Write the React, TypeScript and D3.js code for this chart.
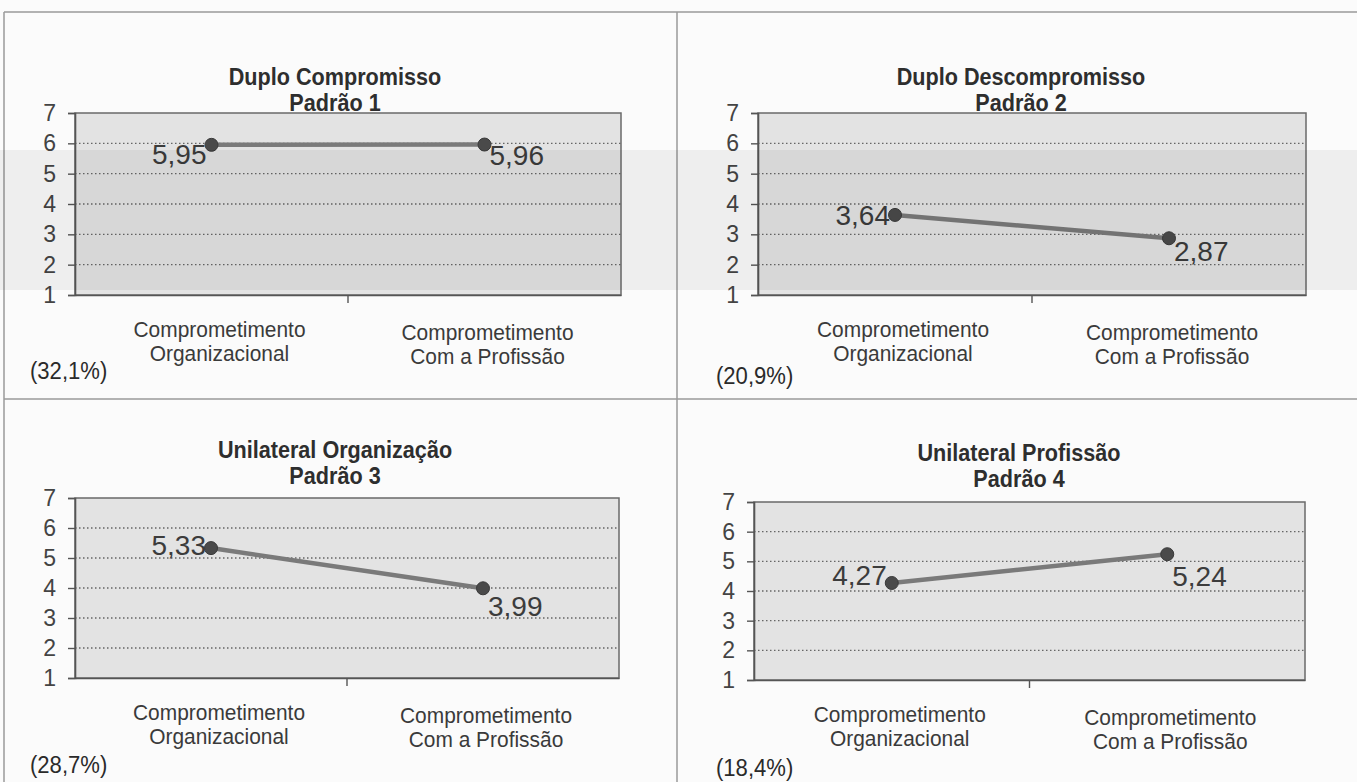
import React, { useEffect, useRef } from 'react';
import * as d3 from 'd3';

// data
const categories = ['Comprometimento Organizacional', 'Comprometimento Com a Profissão'];
const categoryLines = [
  ['Comprometimento', 'Organizacional'],
  ['Comprometimento', 'Com a Profissão'],
];
const panelTitles = ['Duplo Compromisso', 'Duplo Descompromisso', 'Unilateral Organização', 'Unilateral Profissão'];
const panelSubtitles = ['Padrão 1', 'Padrão 2', 'Padrão 3', 'Padrão 4'];
const panelShares = ['(32,1%)', '(20,9%)', '(28,7%)', '(18,4%)'];
const organizacionalValues = [5.95, 3.64, 5.33, 4.27];
const profissaoValues = [5.96, 2.87, 3.99, 5.24];
const yTicks = [1, 2, 3, 4, 5, 6, 7];

// layout of each panel on the page
const panelLayout = [
  { left: 75, right: 621, top: 113, bottom: 295, titleX: 335, titleY: 77, shareX: 30, shareY: 371 },
  { left: 758, right: 1306, top: 113, bottom: 295, titleX: 1021, titleY: 77, shareX: 716, shareY: 376 },
  { left: 75, right: 619, top: 498, bottom: 678, titleX: 335, titleY: 450, shareX: 30, shareY: 765 },
  { left: 754, right: 1305, top: 502, bottom: 680, titleX: 1019, titleY: 453, shareX: 716, shareY: 768 },
];
// vertical nudges of the value labels (first point, second point)
const labelDy = [
  [10, 11],
  [1, 13],
  [-3, 18],
  [-7, 22],
];

const FONT = "'Liberation Sans', Arial, sans-serif";
const fmt = (v: number) => d3.format('.2f')(v).replace('.', ',');

// the scanned figure uses a condensed face, so squeeze the text a bit
function addText(
  g: d3.Selection<SVGGElement, unknown, null, undefined>,
  x: number,
  y: number,
  txt: string,
  size: number,
  squeeze: number,
  anchor = 'middle',
  weight = 'normal',
  fill = '#333'
) {
  g.append('text')
    .attr('transform', `translate(${x},${y}) scale(${squeeze},1)`)
    .attr('text-anchor', anchor)
    .attr('dominant-baseline', 'central')
    .attr('fill', fill)
    .style('font-family', FONT)
    .style('font-size', `${size}px`)
    .style('font-weight', weight)
    .text(txt);
}

export default function App() {
  const svgRef = useRef<SVGSVGElement>(null);

  useEffect(() => {
    if (!svgRef.current) return;
    const svg = d3.select(svgRef.current);
    svg.selectAll('*').remove();

    svg.append('rect').attr('width', 1357).attr('height', 782).attr('fill', '#fbfbfb');

    // panel frame lines
    const frame = svg.append('g').attr('stroke', '#9a9a9a').attr('stroke-width', 1.5);
    frame.append('line').attr('x1', 4).attr('x2', 1357).attr('y1', 12).attr('y2', 12);
    frame.append('line').attr('x1', 4).attr('x2', 4).attr('y1', 12).attr('y2', 782);
    frame.append('line').attr('x1', 677).attr('x2', 677).attr('y1', 12).attr('y2', 782);
    frame.append('line').attr('x1', 4).attr('x2', 1357).attr('y1', 399).attr('y2', 399);

    panelLayout.forEach((p, i) => {
      const g = svg.append('g') as d3.Selection<SVGGElement, unknown, null, undefined>;
      const values = [organizacionalValues[i], profissaoValues[i]];

      const x = d3.scaleBand<string>().domain(categories).range([p.left, p.right]);
      const y = d3.scaleLinear().domain([1, 7]).range([p.bottom, p.top]);

      // plot area
      g.append('rect')
        .attr('x', p.left)
        .attr('y', p.top)
        .attr('width', p.right - p.left)
        .attr('height', p.bottom - p.top)
        .attr('fill', '#e3e3e3')
        .attr('stroke', '#6a6a6a')
        .attr('stroke-width', 1.5);

      // dotted grid
      g.selectAll('.grid')
        .data(yTicks.filter(t => t > 1 && t < 7))
        .join('line')
        .attr('x1', p.left)
        .attr('x2', p.right)
        .attr('y1', d => y(d))
        .attr('y2', d => y(d))
        .attr('stroke', '#666')
        .attr('stroke-width', 1.4)
        .attr('stroke-dasharray', '1.5,2.5');

      // y axis
      const yAxis = g.append('g')
        .attr('transform', `translate(${p.left},0)`)
        .call(d3.axisLeft(y).tickValues(yTicks).tickSize(7).tickPadding(12).tickFormat(d3.format('d')));
      yAxis.select('.domain').attr('stroke', '#555').attr('stroke-width', 1.6);
      yAxis.selectAll('.tick line').attr('stroke', '#555').attr('stroke-width', 1.4);
      yAxis.selectAll('.tick text')
        .attr('fill', '#444')
        .style('font-family', FONT)
        .style('font-size', '23px');

      // x axis with tick between the two categories
      const xAxis = g.append('g')
        .attr('transform', `translate(0,${p.bottom})`)
        .call(d3.axisBottom(x).tickSize(0).tickFormat(() => ''));
      xAxis.select('.domain').attr('stroke', '#555').attr('stroke-width', 1.6);
      g.append('line')
        .attr('x1', p.left + x.bandwidth())
        .attr('x2', p.left + x.bandwidth())
        .attr('y1', p.bottom)
        .attr('y2', p.bottom + 8)
        .attr('stroke', '#555')
        .attr('stroke-width', 1.4);

      // category labels
      categoryLines.forEach((lines, ci) => {
        const cx = (x(categories[ci]) ?? 0) + x.bandwidth() / 2 + (ci === 0 ? 8 : 3);
        lines.forEach((ln, li) => {
          addText(g, cx, p.bottom + (ci === 0 ? 34 : 37) + li * 24, ln, 22.5, 0.93, 'middle', 'normal', '#3a3a3a');
        });
      });

      // line + markers
      const line = d3.line<number>()
        .x((_, k) => (x(categories[k]) ?? 0) + x.bandwidth() / 2)
        .y(d => y(d));
      g.append('path')
        .datum(values)
        .attr('fill', 'none')
        .attr('stroke', '#7a7a7a')
        .attr('stroke-width', 4.5)
        .attr('d', line);
      g.selectAll('.pt')
        .data(values)
        .join('circle')
        .attr('cx', (_, k) => (x(categories[k]) ?? 0) + x.bandwidth() / 2)
        .attr('cy', d => y(d))
        .attr('r', 6.5)
        .attr('fill', '#4a4a4a')
        .attr('stroke', '#3a3a3a');

      // value labels
      values.forEach((v, k) => {
        const px = (x(categories[k]) ?? 0) + x.bandwidth() / 2;
        g.append('text')
          .attr('x', k === 0 ? px - 5 : px + 5)
          .attr('y', y(v) + labelDy[i][k])
          .attr('text-anchor', k === 0 ? 'end' : 'start')
          .attr('dominant-baseline', 'central')
          .attr('fill', '#3c3c3c')
          .style('font-family', FONT)
          .style('font-size', '28px')
          .text(fmt(v));
      });

      // titles
      [panelTitles[i], panelSubtitles[i]].forEach((t, ti) => {
        addText(g, p.titleX, p.titleY + ti * 26, t, 23, 0.94, 'middle', 'bold', '#2e2e2e');
      });

      addText(g, p.shareX, p.shareY, panelShares[i], 24, 0.92, 'start', 'normal', '#2a2a2a');
    });

    // grey band showing through the scan
    svg.append('rect')
      .attr('x', 0)
      .attr('y', 150)
      .attr('width', 1357)
      .attr('height', 140)
      .attr('fill', '#000')
      .attr('opacity', 0.05)
      .style('pointer-events', 'none');
  }, []);

  return (
    <svg
      ref={svgRef}
      width={1357}
      height={782}
      style={{ position: 'absolute', left: 0, top: 0 }}
    />
  );
}
